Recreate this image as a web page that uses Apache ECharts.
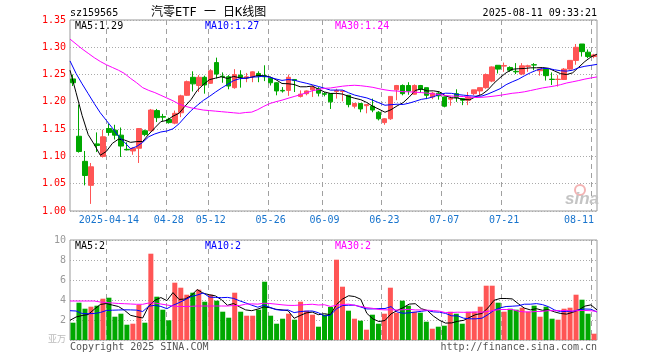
<!DOCTYPE html>
<html><head><meta charset="utf-8">
<script src="https://cdn.jsdelivr.net/npm/echarts@6/dist/echarts.min.js"></script>
<style>html,body{margin:0;padding:0;background:#fff}#c{width:660px;height:360px}</style>
</head><body><div id="c"></div>
<script>
const dates = [
'2025-04-03','2025-04-07','2025-04-08','2025-04-09','2025-04-10','2025-04-11','2025-04-14','2025-04-15','2025-04-16','2025-04-17','2025-04-18','2025-04-21','2025-04-22','2025-04-23','2025-04-24','2025-04-25','2025-04-28','2025-04-29','2025-04-30',
'2025-05-06','2025-05-07','2025-05-08','2025-05-09','2025-05-12','2025-05-13','2025-05-14','2025-05-15','2025-05-16','2025-05-19','2025-05-20','2025-05-21','2025-05-22','2025-05-23','2025-05-26','2025-05-27','2025-05-28','2025-05-29','2025-05-30',
'2025-06-03','2025-06-04','2025-06-05','2025-06-06','2025-06-09','2025-06-10','2025-06-11','2025-06-12','2025-06-13','2025-06-16','2025-06-17','2025-06-18','2025-06-19','2025-06-20','2025-06-23','2025-06-24','2025-06-25','2025-06-26','2025-06-27','2025-06-30',
'2025-07-01','2025-07-02','2025-07-03','2025-07-04','2025-07-07','2025-07-08','2025-07-09','2025-07-10','2025-07-11','2025-07-14','2025-07-15','2025-07-16','2025-07-17','2025-07-18','2025-07-21','2025-07-22','2025-07-23','2025-07-24','2025-07-25','2025-07-28','2025-07-29','2025-07-30','2025-07-31',
'2025-08-01','2025-08-04','2025-08-05','2025-08-06','2025-08-07','2025-08-08','2025-08-11'];

const opens = [1.242,1.137,1.091,1.047,1.123,1.100,1.151,1.148,1.139,1.113,1.110,1.115,1.147,1.147,1.184,1.173,1.168,1.161,1.180,
1.212,1.245,1.230,1.245,1.234,1.272,1.247,1.246,1.226,1.249,1.244,1.246,1.252,1.248,1.243,1.235,1.221,1.221,1.241,
1.210,1.215,1.222,1.224,1.215,1.215,1.219,1.219,1.212,1.192,1.197,1.193,1.192,1.181,1.162,1.169,1.222,1.230,1.230,1.214,
1.230,1.226,1.209,1.216,1.209,1.205,1.215,1.206,1.203,1.215,1.220,1.226,1.238,1.267,1.2655,1.263,1.256,1.251,1.265,1.268,1.257,1.260,1.2415,
1.2410,1.241,1.260,1.276,1.306,1.291,1.283];
const closes = [1.235,1.109,1.065,1.081,1.120,1.136,1.144,1.139,1.119,1.112,1.115,1.151,1.140,1.185,1.171,1.172,1.162,1.179,1.211,
1.237,1.233,1.245,1.231,1.257,1.251,1.246,1.229,1.250,1.245,1.246,1.255,1.247,1.246,1.235,1.220,1.220,1.245,1.239,
1.214,1.220,1.227,1.216,1.214,1.200,1.221,1.220,1.195,1.197,1.187,1.195,1.185,1.169,1.169,1.210,1.230,1.215,1.220,1.230,
1.223,1.212,1.216,1.211,1.192,1.207,1.208,1.203,1.209,1.222,1.226,1.250,1.264,1.260,1.2665,1.258,1.255,1.266,1.266,1.2675,1.260,1.248,1.2410,
1.2415,1.260,1.276,1.300,1.292,1.283,1.286];
const highs = [1.250,1.195,1.110,1.088,1.144,1.149,1.160,1.158,1.153,1.126,1.117,1.152,1.149,1.187,1.187,1.178,1.171,1.184,1.213,
1.239,1.256,1.249,1.248,1.260,1.281,1.254,1.249,1.260,1.258,1.253,1.256,1.256,1.267,1.246,1.236,1.227,1.250,1.241,
1.221,1.221,1.230,1.227,1.218,1.215,1.224,1.221,1.212,1.198,1.197,1.196,1.206,1.183,1.170,1.210,1.231,1.232,1.236,1.232,
1.231,1.226,1.218,1.219,1.210,1.210,1.223,1.206,1.218,1.222,1.226,1.252,1.265,1.267,1.272,1.265,1.271,1.271,1.268,1.271,1.260,1.260,1.254,
1.249,1.262,1.276,1.306,1.306,1.296,1.288];
const lows = [1.229,1.107,1.047,1.013,1.108,1.098,1.138,1.131,1.099,1.111,1.103,1.088,1.137,1.146,1.163,1.165,1.160,1.159,1.172,
1.211,1.219,1.218,1.215,1.233,1.243,1.235,1.223,1.224,1.226,1.236,1.236,1.236,1.238,1.230,1.212,1.217,1.211,1.218,
1.208,1.212,1.209,1.210,1.210,1.187,1.206,1.201,1.190,1.188,1.181,1.179,1.181,1.166,1.158,1.167,1.203,1.212,1.213,1.213,
1.217,1.205,1.205,1.204,1.190,1.193,1.200,1.194,1.194,1.212,1.212,1.224,1.236,1.252,1.255,1.255,1.251,1.249,1.255,1.258,1.248,1.239,1.231,
1.228,1.240,1.259,1.268,1.283,1.280,1.280];
// volume in 万
const volumes = [1.73,3.73,3.13,3.33,3.43,4.13,4.23,2.33,2.63,1.53,1.63,3.50,1.73,8.63,4.33,3.03,1.97,5.73,5.23,
4.53,4.73,5.03,3.83,4.53,3.93,2.83,2.23,4.73,2.83,2.43,2.43,3.03,5.83,2.43,1.63,2.13,2.63,2.03,
3.83,2.93,2.53,1.33,2.53,3.30,8.03,5.33,2.93,2.13,1.93,1.03,2.53,1.63,2.63,5.23,2.73,3.93,3.43,2.83,
2.73,1.83,1.13,1.33,1.43,2.83,2.63,1.63,2.83,2.83,3.33,5.43,5.43,3.73,2.83,3.13,3.03,3.23,2.83,3.43,2.33,3.33,2.13,
2.03,3.13,3.23,4.53,4.03,2.63,0.63];

// moving-average values before enough in-window data exist
const ma5Head = [1.258,1.217,1.175,1.140];
const ma10Head = [1.275,1.252,1.233,1.215,1.197,1.180,1.166,1.152,1.137];
const ma30Head = [1.315,1.306,1.297,1.289,1.281,1.274,1.268,1.263,1.258,1.252,1.243,1.235,1.226,1.221,1.217,1.212,1.207,1.202,1.196,1.192,1.189,1.187,1.185,1.184,1.183,1.182,1.181,1.180,1.179];
const vma5Head = [1.97,2.30,2.45,2.55];
const vma10Head = [2.93,2.90,2.65,2.63,2.65,2.75,2.95,2.98,3.00];
const vma30Head = [3.9,3.9,3.9,3.9,3.9,3.8,3.75,3.7,3.65,3.63,3.6,3.57,3.57,3.7,3.7,3.6,3.5,3.4,3.35,3.35,3.37,3.4,3.4,3.4,3.4,3.4,3.4,3.45,3.45];

const labelIdx = [6,16,23,33,42,52,62,72,87];
const priceRange = [1.00, 1.35], priceStep = 0.05;
const volRange = [0, 10], volStep = 2;
const priceMALabels = ['MA5:1.29','MA10:1.27','MA30:1.24'];
const volMALabels = ['MA5:2','MA10:2','MA30:2'];
const maColors = ['#000000','#0000ff','#ff00ff'];

function movingAvg(src, n, head) {
  return src.map((_, i) => {
    if (i < head.length) return head[i];
    let s = 0; for (let k = i - n + 1; k <= i; k++) s += src[k];
    return +(s / n).toFixed(4);
  });
}
const ma5 = movingAvg(closes, 5, ma5Head), ma10 = movingAvg(closes, 10, ma10Head), ma30 = movingAvg(closes, 30, ma30Head);
const vma5 = movingAvg(volumes, 5, vma5Head), vma10 = movingAvg(volumes, 10, vma10Head), vma30 = movingAvg(volumes, 30, vma30Head);

const RED = '#ff5555', GREEN = '#00a800';
const mono = "'DejaVu Sans Mono', 'Noto Sans CJK SC', monospace";
const labelSet = new Set(labelIdx);
const N = dates.length;
const G0 = {left: 70, top: 20, width: 527, height: 191};
const G1 = {left: 70, top: 240, width: 527, height: 100};

const chart = echarts.init(document.getElementById('c'));
const candleData = opens.map((o, i) => [o, closes[i], lows[i], highs[i]]);
const volData = volumes.map((v, i) => ({value: v, itemStyle: {color: closes[i] >= opens[i] ? RED : GREEN}}));

function lineSeries(data, color, xi, yi) {
  return {type: 'line', data, xAxisIndex: xi, yAxisIndex: yi, symbol: 'none', smooth: false,
    lineStyle: {color, width: 1}, itemStyle: {color}, silent: true, z: 5};
}
function txt(x, y, text, fill, extra) {
  return Object.assign({type: 'text', x, y, z: 10, silent: true,
    style: Object.assign({text, fill, font: '10px ' + mono, textVerticalAlign: 'middle', verticalAlign: 'middle'}, extra || {})});
}
const hiddenCat = (gi) => ({type: 'category', gridIndex: gi, data: dates, boundaryGap: false, show: false});

chart.setOption({
  animation: false,
  backgroundColor: '#ffffff',
  grid: [
    Object.assign({show: true, borderColor: '#999', borderWidth: 1}, G0),
    Object.assign({show: true, borderColor: '#999', borderWidth: 1}, G1)
  ],
  xAxis: [
    {type: 'category', gridIndex: 0, data: dates, boundaryGap: true,
     axisLine: {show: false}, axisTick: {show: false},
     axisLabel: {interval: (i) => labelSet.has(i), color: '#1874cd', fontFamily: mono, fontSize: 10, margin: 4,
       formatter: (v, i) => (i === labelIdx[0] ? v : v.slice(5)), alignMaxLabel: 'right', hideOverlap: false},
     splitLine: {show: false}},
    hiddenCat(0),
    {type: 'category', gridIndex: 1, data: dates, boundaryGap: true,
     axisLine: {show: false}, axisTick: {show: false}, axisLabel: {show: false}, splitLine: {show: false}},
    hiddenCat(1)
  ],
  yAxis: [
    {type: 'value', gridIndex: 0, min: priceRange[0], max: priceRange[1], interval: priceStep, scale: false,
     axisLine: {show: false}, axisTick: {show: false},
     axisLabel: {color: '#ff0000', fontFamily: mono, fontSize: 10, margin: 4, formatter: v => v.toFixed(2)},
     splitLine: {show: true, lineStyle: {color: '#aaaaaa', type: [1, 2], width: 1}}},
    {type: 'value', gridIndex: 1, min: volRange[0], max: volRange[1], interval: volStep,
     axisLine: {show: false}, axisTick: {show: false},
     axisLabel: {color: '#999999', fontFamily: mono, fontSize: 10, margin: 4, formatter: v => (v === 0 ? '' : String(v))},
     splitLine: {show: true, lineStyle: {color: '#aaaaaa', type: [1, 2], width: 1}}}
  ],
  series: [
    {type: 'candlestick', xAxisIndex: 0, yAxisIndex: 0, data: candleData, barWidth: 5,
     itemStyle: {color: RED, color0: GREEN, borderColor: RED, borderColor0: GREEN, borderWidth: 1}, silent: true},
    lineSeries(ma5, maColors[0], 1, 0),
    lineSeries(ma10, maColors[1], 1, 0),
    lineSeries(ma30, maColors[2], 1, 0),
    {type: 'bar', xAxisIndex: 2, yAxisIndex: 1, data: volData, barWidth: 5, silent: true},
    lineSeries(vma5, maColors[0], 3, 1),
    lineSeries(vma10, maColors[1], 3, 1),
    lineSeries(vma30, maColors[2], 3, 1)
  ]
});

// vertical dashed date grid lines at the left edge of each labelled candle band
function bandLeft(k) {
  let x = NaN;
  try {
    const c0 = chart.convertToPixel({xAxisIndex: 0}, 0);
    const c1 = chart.convertToPixel({xAxisIndex: 0}, 1);
    x = chart.convertToPixel({xAxisIndex: 0}, k) - (c1 - c0) / 2;
  } catch (e) { x = NaN; }
  if (!isFinite(x)) x = G0.left + k * G0.width / N;
  return Math.round(x) + 0.5;
}
const gridLineEls = [];
labelIdx.forEach(k => {
  const x = bandLeft(k);
  [G0, G1].forEach(g => {
    gridLineEls.push({type: 'line', z: 1, silent: true,
      shape: {x1: x, y1: g.top, x2: x, y2: g.top + g.height},
      style: {stroke: '#a0a0a0', lineWidth: 1, lineDash: [5, 4]}});
  });
});

chart.setOption({
  graphic: gridLineEls.concat([
    txt(70, 13, 'sz159565', '#000'),
    txt(151, 13, '汽零ETF 一 日K线图', '#000', {font: '12px ' + mono}),
    txt(597, 13, '2025-08-11 09:33:21', '#000', {textAlign: 'right', align: 'right'}),
    txt(75, 26, priceMALabels[0], maColors[0]),
    txt(205, 26, priceMALabels[1], maColors[1]),
    txt(335, 26, priceMALabels[2], maColors[2]),
    txt(75, 246, volMALabels[0], maColors[0]),
    txt(205, 246, volMALabels[1], maColors[1]),
    txt(335, 246, volMALabels[2], maColors[2]),
    txt(48, 340, '亚万', '#bbbbbb', {font: '9px ' + mono}),
    txt(70, 347, 'Copyright 2025 SINA.COM', '#555'),
    txt(597, 347, 'http://finance.sina.com.cn', '#555', {textAlign: 'right', align: 'right'}),
    {type: 'circle', z: 10, shape: {cx: 580, cy: 190, r: 5}, style: {fill: 'none', stroke: '#f3b3b3', lineWidth: 2}, silent: true},
    txt(565, 199, 'sina', '#c4c4c4', {font: 'italic bold 17px Arial, sans-serif'})
  ])
});
</script></body></html>
